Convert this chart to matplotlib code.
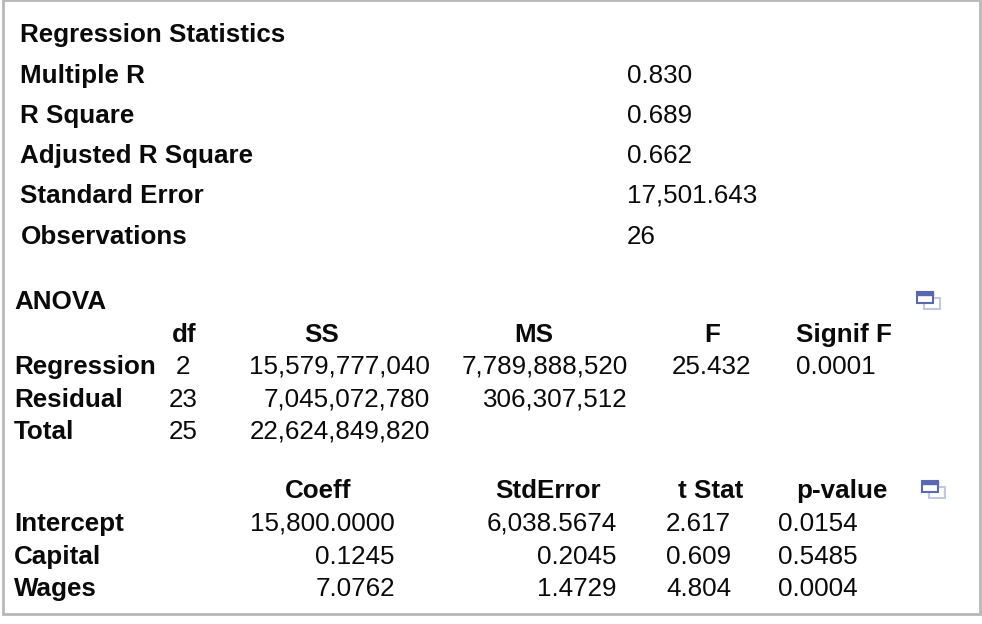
#!/usr/bin/env python3
from matplotlib import pyplot as plt
from matplotlib.patches import Rectangle

plt.rcParams['font.family'] = ['Liberation Sans', 'DejaVu Sans']

stat_labels = ['Regression Statistics', 'Multiple R', 'R Square',
               'Adjusted R Square', 'Standard Error', 'Observations']
stat_values = ['', '0.830', '0.689', '0.662', '17,501.643', '26']

anova_rows = ['Regression', 'Residual', 'Total']
anova_df = ['2', '23', '25']
anova_ss = ['15,579,777,040', '7,045,072,780', '22,624,849,820']
anova_ms = ['7,789,888,520', '306,307,512', '']
anova_f = ['25.432', '', '']
anova_sig = ['0.0001', '', '']

coef_rows = ['Intercept', 'Capital', 'Wages']
coef_vals = ['15,800.0000', '0.1245', '7.0762']
coef_err = ['6,038.5674', '0.2045', '1.4729']
coef_t = ['2.617', '0.609', '4.804']
coef_p = ['0.0154', '0.5485', '0.0004']

FS = 18.75
BORDER = '#b8b8b8'
ICON = '#5a68b0'
ICON_BACK = '#c3c8e2'

fig = plt.figure(figsize=(9.82, 6.24), dpi=100)
ax = fig.add_axes([0, 0, 1, 1])
ax.set_xlim(0, 982)
ax.set_ylim(624, 0)
ax.axis('off')


def put(x, y, s, ha='left', bold=False):
    # y is the middle of the row, text sits on a shared baseline below it
    ax.text(x, y + 8.6, s, ha=ha, va='baseline', fontsize=FS, color='#0a0a0a',
            fontweight='bold' if bold else 'normal')


def icon(x, y):
    ax.add_patch(Rectangle((x + 7, y + 6), 16, 11, fill=False, ec=ICON_BACK, lw=1.5))
    ax.add_patch(Rectangle((x, y), 16, 11, fc='white', ec=ICON, lw=1.5))
    ax.add_patch(Rectangle((x, y), 16, 2.5, fc=ICON, ec=ICON, lw=1))


ax.add_patch(Rectangle((3, 0), 977.5, 613.5, fill=False, ec=BORDER, lw=2))

for y, lab, val in zip([33, 74, 114, 154, 194, 235], stat_labels, stat_values):
    put(20.5, y, lab, bold=True)
    put(627, y, val)

put(14, 300, 'ANOVA', bold=True)
put(184, 333, 'df', ha='center', bold=True)
put(322, 333, 'SS', ha='center', bold=True)
put(534, 333, 'MS', ha='center', bold=True)
put(712, 333, 'F', ha='center', bold=True)
put(796, 333, 'Signif F', bold=True)

for i, y in enumerate([365, 398, 430]):
    put(14, y, anova_rows[i], bold=True)
    put(190 if i == 0 else 198, y, anova_df[i], ha='right')
    put(430, y, anova_ss[i], ha='right')
    put(628, y, anova_ms[i], ha='right')
    put(751, y, anova_f[i], ha='right')
    put(796, y, anova_sig[i])

put(318, 489, 'Coeff', ha='center', bold=True)
put(548, 489, 'StdError', ha='center', bold=True)
put(678, 489, 't Stat', bold=True)
put(796, 489, 'p-value', bold=True)

for i, y in enumerate([522, 555, 587]):
    put(14, y, coef_rows[i], bold=True)
    put(395, y, coef_vals[i], ha='right')
    put(617, y, coef_err[i], ha='right')
    put(666, y, coef_t[i])
    put(778, y, coef_p[i])

icon(917, 292)
icon(922, 481)

fig.savefig('out.png', dpi=100)
